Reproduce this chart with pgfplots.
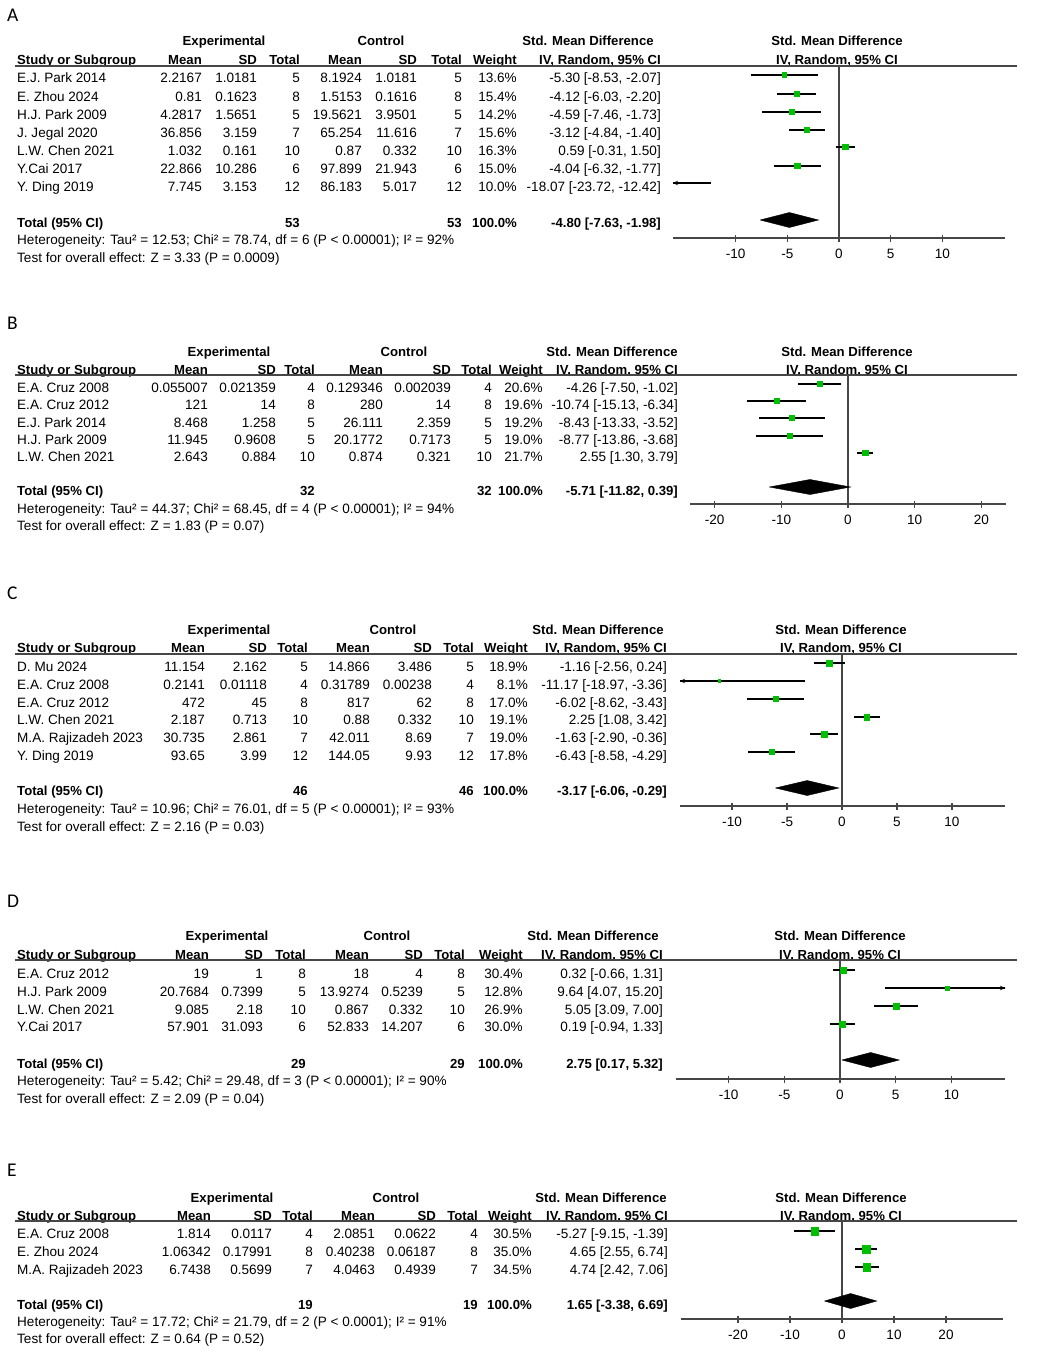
\documentclass[border=0pt]{standalone}
\usepackage{fontspec}
\setmainfont{Liberation Sans}
\newfontfamily\carlito{Carlito}
\usepackage{pgfplots}
\pgfplotsset{compat=1.18}
\usepackage{pgfplotstable}
\usetikzlibrary{arrows.meta}

\definecolor{smdgreen}{RGB}{0,190,0}
\definecolor{axgray}{RGB}{70,70,70}

\newcommand\fsz{\fontsize{13.6}{15}\selectfont}
\newcommand\fszb{\fontsize{13.2}{15}\selectfont\bfseries}

% e = SMD, lo/hi = 95% CI, y = row position (px from top, negated), ms = half width of square
\pgfplotstableread{
e      lo      hi      y     ms
-5.30  -8.53   -2.07   -75   2.5
-4.12  -6.03   -2.20   -94   2.6
-4.59  -7.46   -1.73   -112  2.5
-3.12  -4.84   -1.40   -130  2.6
0.59   -0.31   1.50    -147  2.7
-4.04  -6.32   -1.77   -166  2.6
-18.07 -23.72  -12.42  -183  2.2
}\smdA
\pgfplotstableread{
e      lo      hi      y     ms
-4.26  -7.50   -1.02   -384  2.6
-10.74 -15.13  -6.34   -401  2.5
-8.43  -13.33  -3.52   -418  2.5
-8.77  -13.86  -3.68   -436  2.5
2.55   1.30    3.79    -453  2.7
}\smdB
\pgfplotstableread{
e      lo      hi      y     ms
-1.16  -2.56   0.24    -663  2.7
-11.17 -18.97  -3.36   -681  1.4
-6.02  -8.62   -3.43   -699  2.6
2.25   1.08    3.42    -717  2.7
-1.63  -2.90   -0.36   -734  2.7
-6.43  -8.58   -4.29   -752  2.6
}\smdC
\pgfplotstableread{
e      lo      hi      y     ms
0.32   -0.66   1.31    -970  3.1
9.64   4.07    15.20   -988  1.7
5.05   3.09    7.00    -1006 2.9
0.19   -0.94   1.33    -1024 3.1
}\smdD
\pgfplotstableread{
e      lo      hi      y     ms
-5.27  -9.15   -1.39   -1231 3.7
4.65   2.55    6.74    -1249 4.0
4.74   2.42    7.06    -1267 3.9
}\smdE

\pgfplotsset{
  forest/.style={
    scale only axis, anchor=south west,
    axis x line*=bottom, axis y line=none,
    axis line style={axgray, line width=1.1bp},
    tick align=center, major tick length=7bp,
    tick style={axgray, line width=1.1bp},
    xticklabel style={font=\fsz, anchor=north, inner sep=0pt},
    xticklabel shift=7bp,
  },
  ci/.style={draw=none, mark=none, forget plot,
    error bars/.cd, x dir=both, x explicit, error mark=none,
    error bar style={draw=black, line width=1.15bp}},
  sq/.style={scatter, only marks, mark=square*, forget plot,
    scatter/use mapped color={draw=smdgreen, fill=smdgreen},
    visualization depends on={\thisrow{ms}\as\msz},
    scatter/@pre marker code/.append style={/tikz/mark size=\msz}},
  zero/.style={axgray, line width=1.1bp, forget plot},
  dia/.style={fill=black, draw=black, forget plot},
  arr/.style={black, line width=1.15bp, -{Stealth[length=5bp, width=4.5bp]}, forget plot},
}

\tikzset{
  txt/.style={font=\fsz, inner sep=0pt, yshift=-4.7bp},
  L/.style={txt, anchor=base west},
  R/.style={txt, anchor=base east},
  LB/.style={L, font=\fszb},
  RB/.style={R, font=\fszb},
  CB/.style={txt, anchor=base, font=\fszb},
  hl/.style={draw=axgray, line width=1.1bp},
}

\newcommand\setcols[9]{\def\xN{#1}\def\xEM{#2}\def\xES{#3}\def\xET{#4}%
  \def\xCM{#5}\def\xCS{#6}\def\xCT{#7}\def\xW{#8}\def\xCI{#9}}
\newcommand\heads[6]{%
  \node[CB] at (#3,#1) {Experimental};
  \node[CB] at (#4,#1) {Control};
  \node[CB] at (#5,#1) {Std. Mean Difference};
  \node[CB] at (#6,#1) {Std. Mean Difference};
  \node[LB] at (\xN,#2) {Study or Subgroup};
  \node[RB] at (\xEM,#2) {Mean};
  \node[RB] at (\xES,#2) {SD};
  \node[RB] at (\xET,#2) {Total};
  \node[RB] at (\xCM,#2) {Mean};
  \node[RB] at (\xCS,#2) {SD};
  \node[RB] at (\xCT,#2) {Total};
  \node[RB] at (\xW,#2) {Weight};
  \node[RB] at (\xCI,#2) {IV, Random, 95\% CI};
  \node[CB] at (#6,#2) {IV, Random, 95\% CI};}
\newcommand\hdr[1]{\draw[hl] (15,#1) -- (1017,#1);}
\newcommand\srow[9]{%
  \node[L] at (\xN,#1) {#2};
  \node[R] at (\xEM,#1) {#3};
  \node[R] at (\xES,#1) {#4};
  \node[R] at (\xET,#1) {#5};
  \node[R] at (\xCM,#1) {#6};
  \node[R] at (\xCS,#1) {#7};
  \node[R] at (\xCT,#1) {#8};
  \node[R] at (\xW,#1) {#9};
  \def\ry{#1}\rowci}
\newcommand\rowci[1]{\node[R] at (\xCI,\ry) {#1};}
\newcommand\tot[5]{%
  \node[LB] at (\xN,#1) {Total (95\% CI)};
  \node[RB] at (\xET,#1) {#2};
  \node[RB] at (\xCT,#1) {#3};
  \node[RB] at (\xW,#1) {#4};
  \node[RB] at (\xCI,#1) {#5};}
\newcommand\ftext[2]{\node[L] at (\xN,#1) {#2};}
\newcommand\panel[2]{\node[font=\fontsize{19.5}{22}\selectfont\carlito, anchor=west, inner sep=0pt] at (7,#1) {#2};}

\begin{document}
\begin{tikzpicture}
\useasboundingbox (0,0) rectangle (1038bp,-1355bp);
\fill[white] (0,0) rectangle (1038bp,-1355bp);

\begin{scope}[x=1bp, y=-1bp]
% ---------- A
\panel{15}{A}
\setcols{17}{202}{257}{300}{362}{417}{462}{517}{661}
\heads{41}{60}{224}{381}{588}{837}
\hdr{66}
\srow{78}{E.J. Park 2014}{2.2167}{1.0181}{5}{8.1924}{1.0181}{5}{13.6\%}{-5.30 [-8.53, -2.07]}
\srow{96.5}{E. Zhou 2024}{0.81}{0.1623}{8}{1.5153}{0.1616}{8}{15.4\%}{-4.12 [-6.03, -2.20]}
\srow{114.5}{H.J. Park 2009}{4.2817}{1.5651}{5}{19.5621}{3.9501}{5}{14.2\%}{-4.59 [-7.46, -1.73]}
\srow{132.5}{J. Jegal 2020}{36.856}{3.159}{7}{65.254}{11.616}{7}{15.6\%}{-3.12 [-4.84, -1.40]}
\srow{150.5}{L.W. Chen 2021}{1.032}{0.161}{10}{0.87}{0.332}{10}{16.3\%}{0.59 [-0.31, 1.50]}
\srow{169}{Y.Cai 2017}{22.866}{10.286}{6}{97.899}{21.943}{6}{15.0\%}{-4.04 [-6.32, -1.77]}
\srow{187}{Y. Ding 2019}{7.745}{3.153}{12}{86.183}{5.017}{12}{10.0\%}{-18.07 [-23.72, -12.42]}
\tot{223}{53}{53}{100.0\%}{-4.80 [-7.63, -1.98]}
\ftext{240}{Heterogeneity: Tau² = 12.53; Chi² = 78.74, df = 6 (P < 0.00001); I² = 92\%}
\ftext{258}{Test for overall effect: Z = 3.33 (P = 0.0009)}
% ---------- B
\panel{323}{B}
\setcols{17}{208}{276}{315}{383}{451}{492}{543}{678}
\heads{352}{370}{229}{404}{612}{847}
\hdr{375}
\srow{388}{E.A. Cruz 2008}{0.055007}{0.021359}{4}{0.129346}{0.002039}{4}{20.6\%}{-4.26 [-7.50, -1.02]}
\srow{405}{E.A. Cruz 2012}{121}{14}{8}{280}{14}{8}{19.6\%}{-10.74 [-15.13, -6.34]}
\srow{423}{E.J. Park 2014}{8.468}{1.258}{5}{26.111}{2.359}{5}{19.2\%}{-8.43 [-13.33, -3.52]}
\srow{440}{H.J. Park 2009}{11.945}{0.9608}{5}{20.1772}{0.7173}{5}{19.0\%}{-8.77 [-13.86, -3.68]}
\srow{457}{L.W. Chen 2021}{2.643}{0.884}{10}{0.874}{0.321}{10}{21.7\%}{2.55 [1.30, 3.79]}
\tot{491}{32}{32}{100.0\%}{-5.71 [-11.82, 0.39]}
\ftext{509}{Heterogeneity: Tau² = 44.37; Chi² = 68.45, df = 4 (P < 0.00001); I² = 94\%}
\ftext{526}{Test for overall effect: Z = 1.83 (P = 0.07)}
% ---------- C
\panel{593}{C}
\setcols{17}{205}{267}{308}{370}{432}{474}{528}{667}
\heads{630}{648}{229}{393}{598}{841}
\hdr{654}
\srow{667}{D. Mu 2024}{11.154}{2.162}{5}{14.866}{3.486}{5}{18.9\%}{-1.16 [-2.56, 0.24]}
\srow{685}{E.A. Cruz 2008}{0.2141}{0.01118}{4}{0.31789}{0.00238}{4}{8.1\%}{-11.17 [-18.97, -3.36]}
\srow{703}{E.A. Cruz 2012}{472}{45}{8}{817}{62}{8}{17.0\%}{-6.02 [-8.62, -3.43]}
\srow{720}{L.W. Chen 2021}{2.187}{0.713}{10}{0.88}{0.332}{10}{19.1\%}{2.25 [1.08, 3.42]}
\srow{738}{M.A. Rajizadeh 2023}{30.735}{2.861}{7}{42.011}{8.69}{7}{19.0\%}{-1.63 [-2.90, -0.36]}
\srow{756}{Y. Ding 2019}{93.65}{3.99}{12}{144.05}{9.93}{12}{17.8\%}{-6.43 [-8.58, -4.29]}
\tot{791}{46}{46}{100.0\%}{-3.17 [-6.06, -0.29]}
\ftext{809}{Heterogeneity: Tau² = 10.96; Chi² = 76.01, df = 5 (P < 0.00001); I² = 93\%}
\ftext{827}{Test for overall effect: Z = 2.16 (P = 0.03)}
% ---------- D
\panel{901}{D}
\setcols{17}{209}{263}{306}{369}{423}{465}{523}{663}
\heads{936}{955}{227}{387}{593}{840}
\hdr{960}
\srow{974}{E.A. Cruz 2012}{19}{1}{8}{18}{4}{8}{30.4\%}{0.32 [-0.66, 1.31]}
\srow{992}{H.J. Park 2009}{20.7684}{0.7399}{5}{13.9274}{0.5239}{5}{12.8\%}{9.64 [4.07, 15.20]}
\srow{1010}{L.W. Chen 2021}{9.085}{2.18}{10}{0.867}{0.332}{10}{26.9\%}{5.05 [3.09, 7.00]}
\srow{1027}{Y.Cai 2017}{57.901}{31.093}{6}{52.833}{14.207}{6}{30.0\%}{0.19 [-0.94, 1.33]}
\tot{1064}{29}{29}{100.0\%}{2.75 [0.17, 5.32]}
\ftext{1081}{Heterogeneity: Tau² = 5.42; Chi² = 29.48, df = 3 (P < 0.00001); I² = 90\%}
\ftext{1099}{Test for overall effect: Z = 2.09 (P = 0.04)}
% ---------- E
\panel{1170}{E}
\setcols{17}{211}{272}{313}{375}{436}{478}{532}{668}
\heads{1198}{1216}{232}{396}{601}{841}
\hdr{1221}
\srow{1234}{E.A. Cruz 2008}{1.814}{0.0117}{4}{2.0851}{0.0622}{4}{30.5\%}{-5.27 [-9.15, -1.39]}
\srow{1252}{E. Zhou 2024}{1.06342}{0.17991}{8}{0.40238}{0.06187}{8}{35.0\%}{4.65 [2.55, 6.74]}
\srow{1270}{M.A. Rajizadeh 2023}{6.7438}{0.5699}{7}{4.0463}{0.4939}{7}{34.5\%}{4.74 [2.42, 7.06]}
\tot{1305}{19}{19}{100.0\%}{1.65 [-3.38, 6.69]}
\ftext{1322}{Heterogeneity: Tau² = 17.72; Chi² = 21.79, df = 2 (P < 0.0001); I² = 91\%}
\ftext{1339}{Test for overall effect: Z = 0.64 (P = 0.52)}
\end{scope}

% ---------- forest plots
\begin{axis}[forest, at={(673bp,-238bp)}, width=332bp, height=172bp,
  xmin=-16.05, xmax=16.05, ymin=-238, ymax=-66,
  xtick={-10,-5,0,5,10}, xticklabels={-10,-5,0,5,10}]
\addplot[zero] coordinates {(0,-238) (0,-66)};
\addplot[ci] table[x=e, y=y, x error plus expr=\thisrow{hi}-\thisrow{e}, x error minus expr=\thisrow{e}-\thisrow{lo}] {\smdA};
\addplot[arr] coordinates {(-12.42,-183) (-16.05,-183)};
\addplot[sq] table[x=e, y=y] {\smdA};
\addplot[dia] coordinates {(-7.63,-220) (-4.80,-212.5) (-1.98,-220) (-4.80,-227.5) (-7.63,-220)};
\end{axis}

\begin{axis}[forest, at={(690bp,-504bp)}, width=316bp, height=129bp,
  xmin=-23.7, xmax=23.7, ymin=-504, ymax=-375,
  xtick={-20,-10,0,10,20}, xticklabels={-20,-10,0,10,20}]
\addplot[zero] coordinates {(0,-504) (0,-375)};
\addplot[ci] table[x=e, y=y, x error plus expr=\thisrow{hi}-\thisrow{e}, x error minus expr=\thisrow{e}-\thisrow{lo}] {\smdB};
\addplot[sq] table[x=e, y=y] {\smdB};
\addplot[dia] coordinates {(-11.82,-487) (-5.71,-479.5) (0.39,-487) (-5.71,-494.5) (-11.82,-487)};
\end{axis}

\begin{axis}[forest, at={(680bp,-806bp)}, width=325bp, height=152bp,
  xmin=-14.73, xmax=14.82, ymin=-806, ymax=-654,
  xtick={-10,-5,0,5,10}, xticklabels={-10,-5,0,5,10}]
\addplot[zero] coordinates {(0,-806) (0,-654)};
\addplot[ci] table[x=e, y=y, x error plus expr=\thisrow{hi}-\thisrow{e}, x error minus expr=\thisrow{e}-\thisrow{lo}] {\smdC};
\addplot[arr] coordinates {(-3.36,-681) (-14.73,-681)};
\addplot[sq] table[x=e, y=y] {\smdC};
\addplot[dia] coordinates {(-6.06,-788) (-3.17,-780.5) (-0.29,-788) (-3.17,-795.5) (-6.06,-788)};
\end{axis}

\begin{axis}[forest, at={(676bp,-1079bp)}, width=329bp, height=119bp,
  xmin=-14.73, xmax=14.82, ymin=-1079, ymax=-960,
  xtick={-10,-5,0,5,10}, xticklabels={-10,-5,0,5,10}]
\addplot[zero] coordinates {(0,-1079) (0,-960)};
\addplot[ci] table[x=e, y=y, x error plus expr=\thisrow{hi}-\thisrow{e}, x error minus expr=\thisrow{e}-\thisrow{lo}] {\smdD};
\addplot[arr] coordinates {(4.07,-988) (14.82,-988)};
\addplot[sq] table[x=e, y=y] {\smdD};
\addplot[dia] coordinates {(0.17,-1060) (2.75,-1052.5) (5.32,-1060) (2.75,-1067.5) (0.17,-1060)};
\end{axis}

\begin{axis}[forest, at={(681bp,-1319bp)}, width=322bp, height=98bp,
  xmin=-30.96, xmax=30.96, ymin=-1319, ymax=-1221,
  xtick={-20,-10,0,10,20}, xticklabels={-20,-10,0,10,20}]
\addplot[zero] coordinates {(0,-1319) (0,-1221)};
\addplot[ci] table[x=e, y=y, x error plus expr=\thisrow{hi}-\thisrow{e}, x error minus expr=\thisrow{e}-\thisrow{lo}] {\smdE};
\addplot[sq] table[x=e, y=y] {\smdE};
\addplot[dia] coordinates {(-3.38,-1301) (1.65,-1293.5) (6.69,-1301) (1.65,-1308.5) (-3.38,-1301)};
\end{axis}
\end{tikzpicture}
\end{document}
